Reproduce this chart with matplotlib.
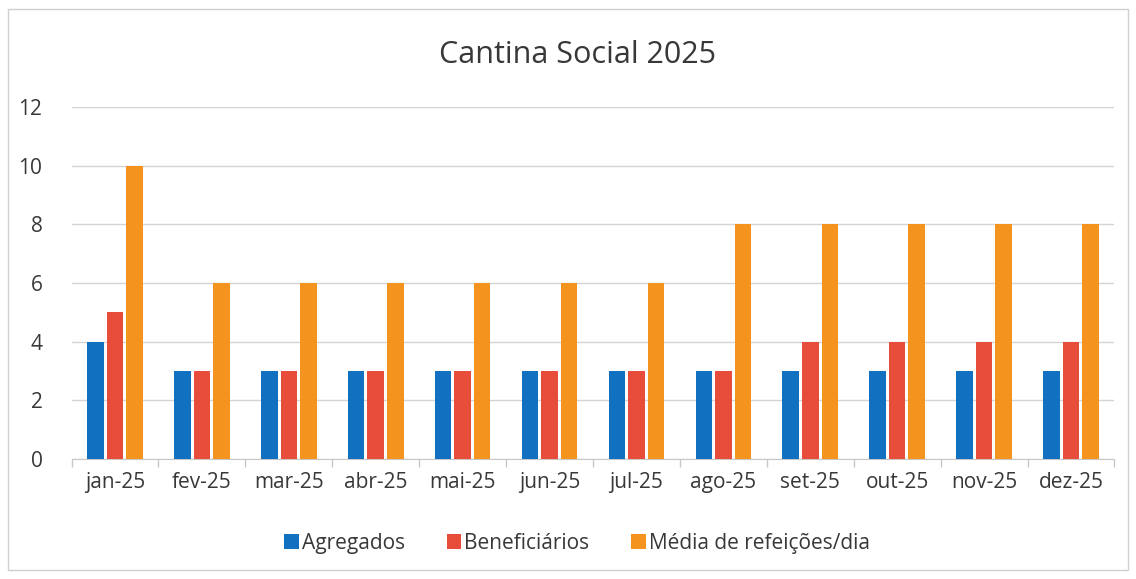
import matplotlib.pyplot as plt
import numpy as np
from matplotlib.patches import Rectangle

months = ['jan-25', 'fev-25', 'mar-25', 'abr-25', 'mai-25', 'jun-25',
          'jul-25', 'ago-25', 'set-25', 'out-25', 'nov-25', 'dez-25']
agregados = [4, 3, 3, 3, 3, 3, 3, 3, 3, 3, 3, 3]
beneficiarios = [5, 3, 3, 3, 3, 3, 3, 3, 4, 4, 4, 4]
media_refeicoes = [10, 6, 6, 6, 6, 6, 6, 8, 8, 8, 8, 8]

series = [
    ('Agregados', agregados, '#1170c0'),
    ('Beneficiários', beneficiarios, '#e84c3a'),
    ('Média de refeições/dia', media_refeicoes, '#f5931f'),
]

plt.rcParams['font.family'] = ['Open Sans', 'DejaVu Sans']

fig = plt.figure(figsize=(11.36, 5.79), dpi=100)
ax = fig.add_axes([0.063, 0.207, 0.918, 0.608])

x = np.arange(len(months))
width = 0.19
step = 0.225
for i, (name, vals, color) in enumerate(series):
    ax.bar(x + (i - 1) * step, vals, width, color=color, label=name, zorder=3)

ax.set_xlim(-0.5, len(months) - 0.5)
ax.set_ylim(0, 12)
ax.set_yticks(range(0, 13, 2))
ax.set_xticks(x)
ax.set_xticklabels(months)
ax.set_xticks(np.arange(-0.5, len(months), 1), minor=True)
ax.tick_params(axis='x', which='major', length=0, pad=9, labelsize=15, colors='#383838')
ax.tick_params(axis='x', which='minor', length=6, color='#c8c8c8', width=1)
ax.tick_params(axis='y', length=0, pad=21, labelsize=15, colors='#383838')
ax.grid(axis='y', color='#d4d4d4', linewidth=1, zorder=0)

for side in ['left', 'right', 'top']:
    ax.spines[side].set_visible(False)
ax.spines['bottom'].set_color('#c8c8c8')

fig.text(0.508, 0.905, 'Cantina Social 2025', ha='center', va='center',
         fontsize=22, color='#383838')

fig.legend(loc='center', bbox_to_anchor=(0.508, 0.062), ncol=3, frameon=False,
           fontsize=15, handlelength=0.7, handleheight=0.7, handletextpad=0.15,
           columnspacing=2.0, labelcolor='#383838')

# outer chart border
fig.patches.append(Rectangle((0.007, 0.015), 0.986, 0.97, transform=fig.transFigure,
                             fill=False, edgecolor='#d0d0d0', linewidth=1))

fig.savefig('out.png', dpi=100)
